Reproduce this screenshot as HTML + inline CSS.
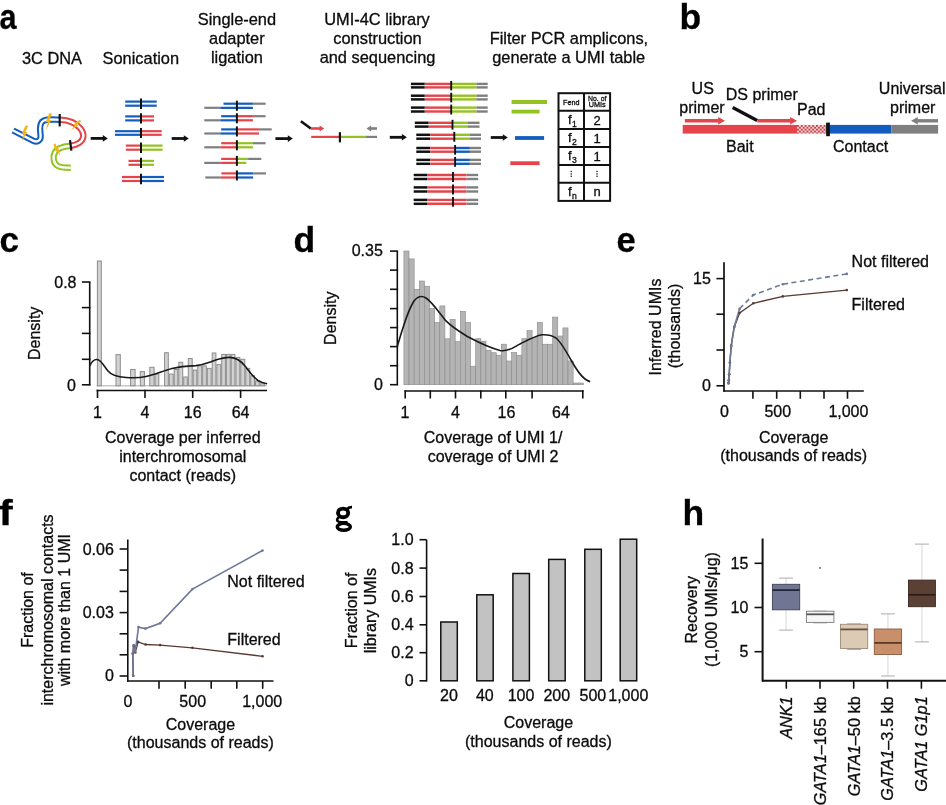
<!DOCTYPE html>
<html><head><meta charset="utf-8"><style>
html,body{margin:0;padding:0;background:#fff;}
body{width:946px;height:805px;overflow:hidden;}
svg{display:block;font-family:"Liberation Sans", sans-serif;will-change:transform;}
text{stroke:#0c0c0c;stroke-width:0.3px;}
</style></head><body>
<svg width="946" height="805" viewBox="0 0 946 805" font-family='"Liberation Sans", sans-serif'>
<rect width="946" height="805" fill="#fff"/>
<text x="0" y="0" font-size="34" font-weight="bold" fill="#000" transform="translate(-0.6,28.9) scale(0.9,1.03)">a</text>
<text x="679.60" y="28.90" font-size="35.5" text-anchor="start" font-weight="bold" font-style="normal" fill="#000" >b</text>
<text x="-0.60" y="251.70" font-size="35" text-anchor="start" font-weight="bold" font-style="normal" fill="#000" >c</text>
<text x="293.60" y="251.60" font-size="35.5" text-anchor="start" font-weight="bold" font-style="normal" fill="#000" >d</text>
<text x="616.40" y="251.60" font-size="34.5" text-anchor="start" font-weight="bold" font-style="normal" fill="#000" >e</text>
<text x="0" y="0" font-size="35" font-weight="bold" fill="#000" transform="translate(-1.2,525) scale(1.2,1)">f</text>
<ellipse cx="343.1" cy="512.9" rx="5.1" ry="4.3" fill="none" stroke="#000" stroke-width="3.9"/>
<path d="M346.8,509.2 C348.5,507.6 350,507.2 352,507.2" fill="none" stroke="#000" stroke-width="2.8"/>
<path d="M339.5,516.8 C337,518 336.3,520.5 338.5,521.6 C340.5,522.4 344,522.2 347.5,522.3" fill="none" stroke="#000" stroke-width="2.6"/>
<ellipse cx="343.8" cy="526.8" rx="6.6" ry="3.4" fill="none" stroke="#000" stroke-width="3.4"/>
<text x="682.60" y="525.20" font-size="35.5" text-anchor="start" font-weight="bold" font-style="normal" fill="#000" >h</text>
<text x="52.00" y="63.50" font-size="16.4" text-anchor="middle" font-weight="normal" font-style="normal" fill="#0c0c0c" >3C DNA</text>
<text x="140.80" y="63.50" font-size="16.4" text-anchor="middle" font-weight="normal" font-style="normal" fill="#0c0c0c" >Sonication</text>
<text x="236.90" y="24.60" font-size="16.4" text-anchor="middle" font-weight="normal" font-style="normal" fill="#0c0c0c" >Single-end</text>
<text x="236.90" y="44.00" font-size="16.4" text-anchor="middle" font-weight="normal" font-style="normal" fill="#0c0c0c" >adapter</text>
<text x="236.90" y="63.40" font-size="16.4" text-anchor="middle" font-weight="normal" font-style="normal" fill="#0c0c0c" >ligation</text>
<text x="377.00" y="24.70" font-size="16.4" text-anchor="middle" font-weight="normal" font-style="normal" fill="#0c0c0c" >UMI-4C library</text>
<text x="377.50" y="43.80" font-size="16.4" text-anchor="middle" font-weight="normal" font-style="normal" fill="#0c0c0c" >construction</text>
<text x="377.50" y="62.80" font-size="16.4" text-anchor="middle" font-weight="normal" font-style="normal" fill="#0c0c0c" >and sequencing</text>
<text x="568.90" y="43.80" font-size="16.4" text-anchor="middle" font-weight="normal" font-style="normal" fill="#0c0c0c" >Filter PCR amplicons,</text>
<text x="568.70" y="62.80" font-size="16.4" text-anchor="middle" font-weight="normal" font-style="normal" fill="#0c0c0c" >generate a UMI table</text>
<path d="M13.1,130.5 L33,140.6 C38,143 41.5,140 40.5,134 C39.5,127 40,122 44,120.5 C48,119 53,119.6 59.7,119.7" fill="none" stroke="#135dbf" stroke-width="6.4" stroke-linecap="butt"/>
<path d="M13.1,130.5 L33,140.6 C38,143 41.5,140 40.5,134 C39.5,127 40,122 44,120.5 C48,119 53,119.6 59.7,119.7" fill="none" stroke="#fff" stroke-width="2.4" stroke-linecap="butt"/>
<path d="M59.7,119.7 C68,119.8 76,123 80.5,128.5 C85,134 84,140 79,143 C76.5,144.5 74,145.3 71,145.8" fill="none" stroke="#e4444a" stroke-width="6.4" stroke-linecap="butt"/>
<path d="M59.7,119.7 C68,119.8 76,123 80.5,128.5 C85,134 84,140 79,143 C76.5,144.5 74,145.3 71,145.8" fill="none" stroke="#fff" stroke-width="2.4" stroke-linecap="butt"/>
<path d="M71,145.8 C63,146.5 57,148 54.8,152.5 C52.5,157 53.5,163 57,165.5 C60,167.6 65,167.8 70.7,167.8" fill="none" stroke="#93c320" stroke-width="6.4" stroke-linecap="butt"/>
<path d="M71,145.8 C63,146.5 57,148 54.8,152.5 C52.5,157 53.5,163 57,165.5 C60,167.6 65,167.8 70.7,167.8" fill="none" stroke="#fff" stroke-width="2.4" stroke-linecap="butt"/>
<line x1="59.70" y1="114.00" x2="59.70" y2="126.40" stroke="#111" stroke-width="2.2" />
<line x1="70.00" y1="140.20" x2="71.40" y2="150.70" stroke="#111" stroke-width="2.2" />
<polygon points="24.40,125.50 27.10,125.50 25.20,131.70 27.00,131.70 22.80,141.50 23.90,134.10 21.90,134.10" fill="#f4b41a" transform="rotate(8 24.2 133.5)"/>
<polygon points="48.41,113.10 51.28,113.10 49.26,119.69 51.18,119.69 46.71,130.10 47.88,122.24 45.76,122.24" fill="#f4b41a" transform="rotate(5 48.2 121.6)"/>
<polygon points="75.58,118.40 77.94,118.40 76.28,123.83 77.85,123.83 74.18,132.40 75.14,125.93 73.39,125.93" fill="#f4b41a" transform="rotate(35 75.4 125.4)"/>
<polygon points="57.47,143.40 59.84,143.40 58.17,148.83 59.75,148.83 56.07,157.40 57.04,150.93 55.29,150.93" fill="#f4b41a" transform="rotate(-35 57.3 150.4)"/>
<line x1="90.70" y1="138.40" x2="103.30" y2="138.40" stroke="#111" stroke-width="2.8" />
<polygon points="107.80,138.40 102.80,135.10 102.80,141.70" fill="#111"/>
<line x1="171.70" y1="138.50" x2="184.30" y2="138.50" stroke="#111" stroke-width="2.8" />
<polygon points="188.80,138.50 183.80,135.20 183.80,141.80" fill="#111"/>
<line x1="275.40" y1="138.60" x2="288.30" y2="138.60" stroke="#111" stroke-width="2.8" />
<polygon points="292.80,138.60 287.80,135.30 287.80,141.90" fill="#111"/>
<line x1="389.80" y1="137.30" x2="402.40" y2="137.30" stroke="#111" stroke-width="2.8" />
<polygon points="406.90,137.30 401.90,134.00 401.90,140.60" fill="#111"/>
<line x1="490.80" y1="137.50" x2="503.30" y2="137.50" stroke="#111" stroke-width="2.8" />
<polygon points="507.80,137.50 502.80,134.20 502.80,140.80" fill="#111"/>
<line x1="125.20" y1="101.60" x2="141.00" y2="101.60" stroke="#135dbf" stroke-width="2.2" />
<line x1="125.20" y1="105.70" x2="141.00" y2="105.70" stroke="#135dbf" stroke-width="2.2" />
<line x1="141.00" y1="101.60" x2="156.70" y2="101.60" stroke="#135dbf" stroke-width="2.2" />
<line x1="141.00" y1="105.70" x2="156.70" y2="105.70" stroke="#135dbf" stroke-width="2.2" />
<line x1="141.00" y1="98.40" x2="141.00" y2="108.90" stroke="#111" stroke-width="2" />
<line x1="125.20" y1="116.40" x2="141.00" y2="116.40" stroke="#135dbf" stroke-width="2.2" />
<line x1="125.20" y1="120.40" x2="141.00" y2="120.40" stroke="#135dbf" stroke-width="2.2" />
<line x1="141.00" y1="116.40" x2="154.00" y2="116.40" stroke="#e4444a" stroke-width="2.2" />
<line x1="141.00" y1="120.40" x2="154.00" y2="120.40" stroke="#e4444a" stroke-width="2.2" />
<line x1="141.00" y1="113.20" x2="141.00" y2="123.60" stroke="#111" stroke-width="2" />
<line x1="115.00" y1="131.20" x2="141.00" y2="131.20" stroke="#135dbf" stroke-width="2.2" />
<line x1="115.00" y1="134.80" x2="141.00" y2="134.80" stroke="#135dbf" stroke-width="2.2" />
<line x1="141.00" y1="131.20" x2="161.70" y2="131.20" stroke="#e4444a" stroke-width="2.2" />
<line x1="141.00" y1="134.80" x2="161.70" y2="134.80" stroke="#e4444a" stroke-width="2.2" />
<line x1="141.00" y1="128.00" x2="141.00" y2="138.00" stroke="#111" stroke-width="2" />
<line x1="125.80" y1="145.60" x2="141.00" y2="145.60" stroke="#e4444a" stroke-width="2.2" />
<line x1="125.80" y1="149.70" x2="141.00" y2="149.70" stroke="#e4444a" stroke-width="2.2" />
<line x1="141.00" y1="145.60" x2="162.60" y2="145.60" stroke="#93c320" stroke-width="2.2" />
<line x1="141.00" y1="149.70" x2="162.60" y2="149.70" stroke="#93c320" stroke-width="2.2" />
<line x1="141.00" y1="142.40" x2="141.00" y2="152.90" stroke="#111" stroke-width="2" />
<line x1="128.50" y1="160.90" x2="141.00" y2="160.90" stroke="#e4444a" stroke-width="2.2" />
<line x1="128.50" y1="164.80" x2="141.00" y2="164.80" stroke="#e4444a" stroke-width="2.2" />
<line x1="141.00" y1="160.90" x2="154.00" y2="160.90" stroke="#93c320" stroke-width="2.2" />
<line x1="141.00" y1="164.80" x2="154.00" y2="164.80" stroke="#93c320" stroke-width="2.2" />
<line x1="141.00" y1="157.70" x2="141.00" y2="168.00" stroke="#111" stroke-width="2" />
<line x1="122.00" y1="177.00" x2="141.00" y2="177.00" stroke="#e4444a" stroke-width="2.2" />
<line x1="122.00" y1="181.00" x2="141.00" y2="181.00" stroke="#e4444a" stroke-width="2.2" />
<line x1="141.00" y1="177.00" x2="164.00" y2="177.00" stroke="#135dbf" stroke-width="2.2" />
<line x1="141.00" y1="181.00" x2="164.00" y2="181.00" stroke="#135dbf" stroke-width="2.2" />
<line x1="141.00" y1="173.80" x2="141.00" y2="184.20" stroke="#111" stroke-width="2" />
<line x1="223.50" y1="103.70" x2="252.90" y2="103.70" stroke="#135dbf" stroke-width="2.2" />
<line x1="252.90" y1="103.70" x2="265.60" y2="103.70" stroke="#7f7f7f" stroke-width="2.2" />
<line x1="204.30" y1="107.80" x2="220.30" y2="107.80" stroke="#7f7f7f" stroke-width="2.2" />
<line x1="220.30" y1="107.80" x2="252.90" y2="107.80" stroke="#135dbf" stroke-width="2.2" />
<line x1="236.90" y1="100.70" x2="236.90" y2="110.80" stroke="#111" stroke-width="2" />
<line x1="221.20" y1="116.20" x2="236.90" y2="116.20" stroke="#135dbf" stroke-width="2.2" />
<line x1="236.90" y1="116.20" x2="252.90" y2="116.20" stroke="#e4444a" stroke-width="2.2" />
<line x1="252.90" y1="116.20" x2="265.60" y2="116.20" stroke="#7f7f7f" stroke-width="2.2" />
<line x1="204.30" y1="120.30" x2="220.30" y2="120.30" stroke="#7f7f7f" stroke-width="2.2" />
<line x1="220.30" y1="120.30" x2="236.90" y2="120.30" stroke="#135dbf" stroke-width="2.2" />
<line x1="236.90" y1="120.30" x2="252.90" y2="120.30" stroke="#e4444a" stroke-width="2.2" />
<line x1="236.90" y1="113.20" x2="236.90" y2="123.30" stroke="#111" stroke-width="2" />
<line x1="221.20" y1="129.40" x2="236.90" y2="129.40" stroke="#135dbf" stroke-width="2.2" />
<line x1="236.90" y1="129.40" x2="259.00" y2="129.40" stroke="#e4444a" stroke-width="2.2" />
<line x1="259.00" y1="129.40" x2="271.70" y2="129.40" stroke="#7f7f7f" stroke-width="2.2" />
<line x1="204.30" y1="133.50" x2="220.30" y2="133.50" stroke="#7f7f7f" stroke-width="2.2" />
<line x1="220.30" y1="133.50" x2="236.90" y2="133.50" stroke="#135dbf" stroke-width="2.2" />
<line x1="236.90" y1="133.50" x2="259.00" y2="133.50" stroke="#e4444a" stroke-width="2.2" />
<line x1="236.90" y1="126.40" x2="236.90" y2="136.50" stroke="#111" stroke-width="2" />
<line x1="221.20" y1="143.20" x2="236.90" y2="143.20" stroke="#e4444a" stroke-width="2.2" />
<line x1="236.90" y1="143.20" x2="252.90" y2="143.20" stroke="#93c320" stroke-width="2.2" />
<line x1="252.90" y1="143.20" x2="265.60" y2="143.20" stroke="#7f7f7f" stroke-width="2.2" />
<line x1="204.30" y1="147.30" x2="220.30" y2="147.30" stroke="#7f7f7f" stroke-width="2.2" />
<line x1="220.30" y1="147.30" x2="236.90" y2="147.30" stroke="#e4444a" stroke-width="2.2" />
<line x1="236.90" y1="147.30" x2="252.90" y2="147.30" stroke="#93c320" stroke-width="2.2" />
<line x1="236.90" y1="140.20" x2="236.90" y2="150.30" stroke="#111" stroke-width="2" />
<line x1="221.20" y1="158.90" x2="236.90" y2="158.90" stroke="#e4444a" stroke-width="2.2" />
<line x1="236.90" y1="158.90" x2="248.10" y2="158.90" stroke="#93c320" stroke-width="2.2" />
<line x1="248.10" y1="158.90" x2="261.30" y2="158.90" stroke="#7f7f7f" stroke-width="2.2" />
<line x1="204.30" y1="162.90" x2="220.30" y2="162.90" stroke="#7f7f7f" stroke-width="2.2" />
<line x1="220.30" y1="162.90" x2="236.90" y2="162.90" stroke="#e4444a" stroke-width="2.2" />
<line x1="236.90" y1="162.90" x2="246.30" y2="162.90" stroke="#93c320" stroke-width="2.2" />
<line x1="236.90" y1="155.90" x2="236.90" y2="165.90" stroke="#111" stroke-width="2" />
<line x1="221.40" y1="173.40" x2="236.90" y2="173.40" stroke="#e4444a" stroke-width="2.2" />
<line x1="236.90" y1="173.40" x2="253.10" y2="173.40" stroke="#135dbf" stroke-width="2.2" />
<line x1="253.10" y1="173.40" x2="265.90" y2="173.40" stroke="#7f7f7f" stroke-width="2.2" />
<line x1="205.30" y1="177.50" x2="220.80" y2="177.50" stroke="#7f7f7f" stroke-width="2.2" />
<line x1="220.80" y1="177.50" x2="236.90" y2="177.50" stroke="#e4444a" stroke-width="2.2" />
<line x1="236.90" y1="177.50" x2="253.10" y2="177.50" stroke="#135dbf" stroke-width="2.2" />
<line x1="236.90" y1="170.40" x2="236.90" y2="180.50" stroke="#111" stroke-width="2" />
<line x1="300.90" y1="121.20" x2="310.80" y2="128.50" stroke="#111" stroke-width="2.6" />
<line x1="310.80" y1="128.50" x2="320.10" y2="128.50" stroke="#e4444a" stroke-width="2.6" />
<polygon points="324.20,128.50 319.60,125.40 319.60,131.60" fill="#e4444a"/>
<line x1="370.60" y1="128.50" x2="377.00" y2="128.50" stroke="#7f7f7f" stroke-width="2.6" />
<polygon points="366.50,128.50 371.10,125.40 371.10,131.60" fill="#7f7f7f"/>
<line x1="311.20" y1="136.90" x2="339.90" y2="136.90" stroke="#e4444a" stroke-width="2.2" />
<line x1="339.90" y1="136.90" x2="365.90" y2="136.90" stroke="#93c320" stroke-width="2.2" />
<line x1="365.90" y1="136.90" x2="377.00" y2="136.90" stroke="#7f7f7f" stroke-width="2.2" />
<line x1="339.90" y1="132.20" x2="339.90" y2="142.40" stroke="#111" stroke-width="2.2" />
<line x1="410.90" y1="83.90" x2="424.80" y2="83.90" stroke="#111" stroke-width="2.5" />
<line x1="424.80" y1="83.90" x2="451.20" y2="83.90" stroke="#e4444a" stroke-width="2.4" />
<line x1="451.20" y1="83.90" x2="476.40" y2="83.90" stroke="#93c320" stroke-width="2.4" />
<line x1="476.40" y1="83.90" x2="487.70" y2="83.90" stroke="#7f7f7f" stroke-width="2.4" />
<line x1="410.90" y1="87.40" x2="424.80" y2="87.40" stroke="#111" stroke-width="2.5" />
<line x1="424.80" y1="87.40" x2="451.20" y2="87.40" stroke="#e4444a" stroke-width="2.4" />
<line x1="451.20" y1="87.40" x2="476.40" y2="87.40" stroke="#93c320" stroke-width="2.4" />
<line x1="476.40" y1="87.40" x2="487.70" y2="87.40" stroke="#7f7f7f" stroke-width="2.4" />
<line x1="451.20" y1="80.90" x2="451.20" y2="90.40" stroke="#111" stroke-width="1.9" />
<line x1="410.90" y1="95.70" x2="424.80" y2="95.70" stroke="#111" stroke-width="2.5" />
<line x1="424.80" y1="95.70" x2="451.20" y2="95.70" stroke="#e4444a" stroke-width="2.4" />
<line x1="451.20" y1="95.70" x2="476.40" y2="95.70" stroke="#93c320" stroke-width="2.4" />
<line x1="476.40" y1="95.70" x2="487.70" y2="95.70" stroke="#7f7f7f" stroke-width="2.4" />
<line x1="410.90" y1="99.40" x2="424.80" y2="99.40" stroke="#111" stroke-width="2.5" />
<line x1="424.80" y1="99.40" x2="451.20" y2="99.40" stroke="#e4444a" stroke-width="2.4" />
<line x1="451.20" y1="99.40" x2="476.40" y2="99.40" stroke="#93c320" stroke-width="2.4" />
<line x1="476.40" y1="99.40" x2="487.70" y2="99.40" stroke="#7f7f7f" stroke-width="2.4" />
<line x1="451.20" y1="92.70" x2="451.20" y2="102.40" stroke="#111" stroke-width="1.9" />
<line x1="410.90" y1="107.60" x2="424.80" y2="107.60" stroke="#111" stroke-width="2.5" />
<line x1="424.80" y1="107.60" x2="451.20" y2="107.60" stroke="#e4444a" stroke-width="2.4" />
<line x1="451.20" y1="107.60" x2="476.40" y2="107.60" stroke="#93c320" stroke-width="2.4" />
<line x1="476.40" y1="107.60" x2="487.70" y2="107.60" stroke="#7f7f7f" stroke-width="2.4" />
<line x1="410.90" y1="111.50" x2="424.80" y2="111.50" stroke="#111" stroke-width="2.5" />
<line x1="424.80" y1="111.50" x2="451.20" y2="111.50" stroke="#e4444a" stroke-width="2.4" />
<line x1="451.20" y1="111.50" x2="476.40" y2="111.50" stroke="#93c320" stroke-width="2.4" />
<line x1="476.40" y1="111.50" x2="487.70" y2="111.50" stroke="#7f7f7f" stroke-width="2.4" />
<line x1="451.20" y1="104.60" x2="451.20" y2="114.50" stroke="#111" stroke-width="1.9" />
<line x1="414.80" y1="122.80" x2="428.70" y2="122.80" stroke="#111" stroke-width="2.5" />
<line x1="428.70" y1="122.80" x2="452.50" y2="122.80" stroke="#e4444a" stroke-width="2.4" />
<line x1="452.50" y1="122.80" x2="467.90" y2="122.80" stroke="#93c320" stroke-width="2.4" />
<line x1="467.90" y1="122.80" x2="479.50" y2="122.80" stroke="#7f7f7f" stroke-width="2.4" />
<line x1="414.80" y1="126.60" x2="428.70" y2="126.60" stroke="#111" stroke-width="2.5" />
<line x1="428.70" y1="126.60" x2="452.50" y2="126.60" stroke="#e4444a" stroke-width="2.4" />
<line x1="452.50" y1="126.60" x2="467.90" y2="126.60" stroke="#93c320" stroke-width="2.4" />
<line x1="467.90" y1="126.60" x2="479.50" y2="126.60" stroke="#7f7f7f" stroke-width="2.4" />
<line x1="452.50" y1="119.80" x2="452.50" y2="129.60" stroke="#111" stroke-width="1.9" />
<line x1="416.30" y1="134.80" x2="430.30" y2="134.80" stroke="#111" stroke-width="2.5" />
<line x1="430.30" y1="134.80" x2="454.30" y2="134.80" stroke="#e4444a" stroke-width="2.4" />
<line x1="454.30" y1="134.80" x2="469.90" y2="134.80" stroke="#93c320" stroke-width="2.4" />
<line x1="469.90" y1="134.80" x2="481.00" y2="134.80" stroke="#7f7f7f" stroke-width="2.4" />
<line x1="416.30" y1="138.70" x2="430.30" y2="138.70" stroke="#111" stroke-width="2.5" />
<line x1="430.30" y1="138.70" x2="454.30" y2="138.70" stroke="#e4444a" stroke-width="2.4" />
<line x1="454.30" y1="138.70" x2="469.90" y2="138.70" stroke="#93c320" stroke-width="2.4" />
<line x1="469.90" y1="138.70" x2="481.00" y2="138.70" stroke="#7f7f7f" stroke-width="2.4" />
<line x1="454.30" y1="131.80" x2="454.30" y2="141.70" stroke="#111" stroke-width="1.9" />
<line x1="416.30" y1="148.00" x2="430.30" y2="148.00" stroke="#111" stroke-width="2.5" />
<line x1="430.30" y1="148.00" x2="455.10" y2="148.00" stroke="#e4444a" stroke-width="2.4" />
<line x1="455.10" y1="148.00" x2="469.90" y2="148.00" stroke="#135dbf" stroke-width="2.4" />
<line x1="469.90" y1="148.00" x2="481.00" y2="148.00" stroke="#7f7f7f" stroke-width="2.4" />
<line x1="416.30" y1="151.70" x2="430.30" y2="151.70" stroke="#111" stroke-width="2.5" />
<line x1="430.30" y1="151.70" x2="455.10" y2="151.70" stroke="#e4444a" stroke-width="2.4" />
<line x1="455.10" y1="151.70" x2="469.90" y2="151.70" stroke="#135dbf" stroke-width="2.4" />
<line x1="469.90" y1="151.70" x2="481.00" y2="151.70" stroke="#7f7f7f" stroke-width="2.4" />
<line x1="455.10" y1="145.00" x2="455.10" y2="154.70" stroke="#111" stroke-width="1.9" />
<line x1="416.30" y1="159.90" x2="430.30" y2="159.90" stroke="#111" stroke-width="2.5" />
<line x1="430.30" y1="159.90" x2="455.10" y2="159.90" stroke="#e4444a" stroke-width="2.4" />
<line x1="455.10" y1="159.90" x2="469.90" y2="159.90" stroke="#135dbf" stroke-width="2.4" />
<line x1="469.90" y1="159.90" x2="481.00" y2="159.90" stroke="#7f7f7f" stroke-width="2.4" />
<line x1="416.30" y1="163.80" x2="430.30" y2="163.80" stroke="#111" stroke-width="2.5" />
<line x1="430.30" y1="163.80" x2="455.10" y2="163.80" stroke="#e4444a" stroke-width="2.4" />
<line x1="455.10" y1="163.80" x2="469.90" y2="163.80" stroke="#135dbf" stroke-width="2.4" />
<line x1="469.90" y1="163.80" x2="481.00" y2="163.80" stroke="#7f7f7f" stroke-width="2.4" />
<line x1="455.10" y1="156.90" x2="455.10" y2="166.80" stroke="#111" stroke-width="1.9" />
<line x1="413.70" y1="175.00" x2="427.50" y2="175.00" stroke="#111" stroke-width="2.5" />
<line x1="427.50" y1="175.00" x2="466.60" y2="175.00" stroke="#e4444a" stroke-width="2.4" />
<line x1="466.60" y1="175.00" x2="478.20" y2="175.00" stroke="#7f7f7f" stroke-width="2.4" />
<line x1="413.70" y1="179.00" x2="427.50" y2="179.00" stroke="#111" stroke-width="2.5" />
<line x1="427.50" y1="179.00" x2="466.60" y2="179.00" stroke="#e4444a" stroke-width="2.4" />
<line x1="466.60" y1="179.00" x2="478.20" y2="179.00" stroke="#7f7f7f" stroke-width="2.4" />
<line x1="453.00" y1="172.00" x2="453.00" y2="182.00" stroke="#111" stroke-width="1.9" />
<line x1="413.70" y1="187.40" x2="427.50" y2="187.40" stroke="#111" stroke-width="2.5" />
<line x1="427.50" y1="187.40" x2="466.60" y2="187.40" stroke="#e4444a" stroke-width="2.4" />
<line x1="466.60" y1="187.40" x2="478.20" y2="187.40" stroke="#7f7f7f" stroke-width="2.4" />
<line x1="413.70" y1="191.50" x2="427.50" y2="191.50" stroke="#111" stroke-width="2.5" />
<line x1="427.50" y1="191.50" x2="466.60" y2="191.50" stroke="#e4444a" stroke-width="2.4" />
<line x1="466.60" y1="191.50" x2="478.20" y2="191.50" stroke="#7f7f7f" stroke-width="2.4" />
<line x1="453.00" y1="184.40" x2="453.00" y2="194.50" stroke="#111" stroke-width="1.9" />
<line x1="413.70" y1="199.90" x2="427.50" y2="199.90" stroke="#111" stroke-width="2.5" />
<line x1="427.50" y1="199.90" x2="466.60" y2="199.90" stroke="#e4444a" stroke-width="2.4" />
<line x1="466.60" y1="199.90" x2="478.20" y2="199.90" stroke="#7f7f7f" stroke-width="2.4" />
<line x1="413.70" y1="203.80" x2="427.50" y2="203.80" stroke="#111" stroke-width="2.5" />
<line x1="427.50" y1="203.80" x2="466.60" y2="203.80" stroke="#e4444a" stroke-width="2.4" />
<line x1="466.60" y1="203.80" x2="478.20" y2="203.80" stroke="#7f7f7f" stroke-width="2.4" />
<line x1="453.00" y1="196.90" x2="453.00" y2="206.80" stroke="#111" stroke-width="1.9" />
<line x1="511.60" y1="102.00" x2="547.00" y2="102.00" stroke="#93c320" stroke-width="3.8" />
<line x1="511.60" y1="111.60" x2="539.60" y2="111.60" stroke="#93c320" stroke-width="3.8" />
<line x1="515.00" y1="138.00" x2="544.10" y2="138.00" stroke="#135dbf" stroke-width="3.8" />
<line x1="510.30" y1="163.20" x2="539.60" y2="163.20" stroke="#e4444a" stroke-width="3.8" />
<rect x="558.50" y="93.20" width="51.60" height="107.70" fill="#fff" stroke="#111" stroke-width="2" />
<line x1="584.00" y1="93.20" x2="584.00" y2="200.90" stroke="#111" stroke-width="2" />
<line x1="558.50" y1="110.80" x2="610.10" y2="110.80" stroke="#111" stroke-width="2" />
<line x1="558.50" y1="129.00" x2="610.10" y2="129.00" stroke="#111" stroke-width="2" />
<line x1="558.50" y1="147.10" x2="610.10" y2="147.10" stroke="#111" stroke-width="2" />
<line x1="558.50" y1="165.10" x2="610.10" y2="165.10" stroke="#111" stroke-width="2" />
<line x1="558.50" y1="182.80" x2="610.10" y2="182.80" stroke="#111" stroke-width="2" />
<text x="571.20" y="104.80" font-size="7.2" text-anchor="middle" font-weight="normal" font-style="normal" fill="#0c0c0c" >Fend</text>
<text x="597.2" y="101.2" font-size="7.6" text-anchor="middle" fill="#0c0c0c" textLength="18.4" lengthAdjust="spacingAndGlyphs">No. of</text>
<text x="597.2" y="106.6" font-size="7.6" text-anchor="middle" fill="#0c0c0c" textLength="17" lengthAdjust="spacingAndGlyphs">UMIs</text>
<text x="568" y="123.90" font-size="13" fill="#0c0c0c">f<tspan font-size="8.6" dy="3" dx="0.3">1</tspan></text>
<text x="597.00" y="124.50" font-size="13" text-anchor="middle" font-weight="normal" font-style="normal" fill="#0c0c0c" >2</text>
<text x="568" y="142.05" font-size="13" fill="#0c0c0c">f<tspan font-size="8.6" dy="3" dx="0.3">2</tspan></text>
<text x="597.00" y="142.65" font-size="13" text-anchor="middle" font-weight="normal" font-style="normal" fill="#0c0c0c" >1</text>
<text x="568" y="160.10" font-size="13" fill="#0c0c0c">f<tspan font-size="8.6" dy="3" dx="0.3">3</tspan></text>
<text x="597.00" y="160.70" font-size="13" text-anchor="middle" font-weight="normal" font-style="normal" fill="#0c0c0c" >1</text>
<circle cx="571.2" cy="171.55" r="0.75" fill="#0c0c0c"/>
<circle cx="571.2" cy="173.95" r="0.75" fill="#0c0c0c"/>
<circle cx="571.2" cy="176.35" r="0.75" fill="#0c0c0c"/>
<circle cx="597" cy="171.55" r="0.75" fill="#0c0c0c"/>
<circle cx="597" cy="173.95" r="0.75" fill="#0c0c0c"/>
<circle cx="597" cy="176.35" r="0.75" fill="#0c0c0c"/>
<text x="568" y="195.85" font-size="13" fill="#0c0c0c">f<tspan font-size="8.6" dy="3" dx="0.3">n</tspan></text>
<text x="597.00" y="196.45" font-size="13" text-anchor="middle" font-weight="normal" font-style="normal" fill="#0c0c0c" >n</text>
<rect x="682.70" y="124.90" width="114.30" height="8.70" fill="#e4444a" stroke="none" stroke-width="0" />
<defs><pattern id="chk" x="797" y="124.9" width="3.8" height="3.8" patternUnits="userSpaceOnUse"><rect width="3.8" height="3.8" fill="#f8dcdc"/><rect width="1.9" height="1.9" fill="#c94048"/><rect x="1.9" y="1.9" width="1.9" height="1.9" fill="#c94048"/></pattern></defs>
<rect x="797.00" y="124.90" width="29.30" height="8.70" fill="url(#chk)" stroke="none" stroke-width="0" />
<rect x="829.30" y="124.90" width="62.00" height="8.70" fill="#135dbf" stroke="none" stroke-width="0" />
<rect x="891.30" y="124.90" width="46.80" height="8.70" fill="#7f7f7f" stroke="none" stroke-width="0" />
<rect x="826.10" y="122.60" width="3.80" height="13.60" fill="#111" stroke="none" stroke-width="0" />
<line x1="684.80" y1="120.80" x2="718.70" y2="120.80" stroke="#e4444a" stroke-width="3.4" />
<polygon points="725.00,120.80 718.20,117.10 718.20,124.50" fill="#e4444a"/>
<line x1="757.30" y1="120.80" x2="790.70" y2="120.80" stroke="#e4444a" stroke-width="3.4" />
<polygon points="797.00,120.80 790.20,117.10 790.20,124.50" fill="#e4444a"/>
<line x1="917.30" y1="120.80" x2="938.00" y2="120.80" stroke="#7f7f7f" stroke-width="3.4" />
<polygon points="911.00,120.80 917.80,117.10 917.80,124.50" fill="#7f7f7f"/>
<line x1="732.70" y1="107.60" x2="757.10" y2="120.40" stroke="#111" stroke-width="3.4" />
<text x="702.70" y="93.90" font-size="16" text-anchor="middle" font-weight="normal" font-style="normal" fill="#0c0c0c" >US</text>
<text x="702.00" y="112.60" font-size="16" text-anchor="middle" font-weight="normal" font-style="normal" fill="#0c0c0c" >primer</text>
<text x="761.80" y="99.90" font-size="16" text-anchor="middle" font-weight="normal" font-style="normal" fill="#0c0c0c" >DS primer</text>
<text x="811.20" y="115.00" font-size="16" text-anchor="middle" font-weight="normal" font-style="normal" fill="#0c0c0c" >Pad</text>
<text x="912.20" y="93.90" font-size="16" text-anchor="middle" font-weight="normal" font-style="normal" fill="#0c0c0c" >Universal</text>
<text x="912.70" y="112.60" font-size="16" text-anchor="middle" font-weight="normal" font-style="normal" fill="#0c0c0c" >primer</text>
<text x="739.80" y="152.00" font-size="16" text-anchor="middle" font-weight="normal" font-style="normal" fill="#0c0c0c" >Bait</text>
<text x="860.60" y="152.00" font-size="16" text-anchor="middle" font-weight="normal" font-style="normal" fill="#0c0c0c" >Contact</text>
<line x1="89.70" y1="282.00" x2="89.70" y2="385.40" stroke="#111" stroke-width="1.6" />
<line x1="81.90" y1="282.00" x2="90.50" y2="282.00" stroke="#111" stroke-width="1.6" />
<line x1="81.90" y1="307.60" x2="90.50" y2="307.60" stroke="#111" stroke-width="1.6" />
<line x1="81.90" y1="333.40" x2="90.50" y2="333.40" stroke="#111" stroke-width="1.6" />
<line x1="81.90" y1="359.30" x2="90.50" y2="359.30" stroke="#111" stroke-width="1.6" />
<line x1="81.90" y1="384.80" x2="90.50" y2="384.80" stroke="#111" stroke-width="1.6" />
<text x="76.50" y="287.60" font-size="16" text-anchor="end" font-weight="normal" font-style="normal" fill="#0c0c0c" >0.8</text>
<text x="76.00" y="390.60" font-size="16" text-anchor="end" font-weight="normal" font-style="normal" fill="#0c0c0c" >0</text>
<text x="40.50" y="333.30" font-size="16" text-anchor="middle" font-weight="normal" font-style="normal" fill="#0c0c0c" transform="rotate(-90 40.50 333.30)" >Density</text>
<line x1="96.60" y1="390.50" x2="267.00" y2="390.50" stroke="#111" stroke-width="1.6" />
<line x1="97.50" y1="389.70" x2="97.50" y2="398.00" stroke="#111" stroke-width="1.6" />
<line x1="145.00" y1="389.70" x2="145.00" y2="398.00" stroke="#111" stroke-width="1.6" />
<line x1="192.70" y1="389.70" x2="192.70" y2="398.00" stroke="#111" stroke-width="1.6" />
<line x1="240.60" y1="389.70" x2="240.60" y2="398.00" stroke="#111" stroke-width="1.6" />
<text x="97.50" y="417.70" font-size="16" text-anchor="middle" font-weight="normal" font-style="normal" fill="#0c0c0c" >1</text>
<text x="145.00" y="417.70" font-size="16" text-anchor="middle" font-weight="normal" font-style="normal" fill="#0c0c0c" >4</text>
<text x="192.70" y="417.70" font-size="16" text-anchor="middle" font-weight="normal" font-style="normal" fill="#0c0c0c" >16</text>
<text x="240.60" y="417.70" font-size="16" text-anchor="middle" font-weight="normal" font-style="normal" fill="#0c0c0c" >64</text>
<text x="182.80" y="443.00" font-size="16" text-anchor="middle" font-weight="normal" font-style="normal" fill="#0c0c0c" >Coverage per inferred</text>
<text x="182.80" y="462.10" font-size="16" text-anchor="middle" font-weight="normal" font-style="normal" fill="#0c0c0c" >interchromosomal</text>
<text x="182.80" y="481.20" font-size="16" text-anchor="middle" font-weight="normal" font-style="normal" fill="#0c0c0c" >contact (reads)</text>
<line x1="96.60" y1="385.80" x2="267.00" y2="385.80" stroke="#aaa" stroke-width="1" />
<rect x="97.40" y="261.00" width="3.90" height="124.80" fill="#d2d2d2" stroke="#8c8c8c" stroke-width="1" />
<rect x="116.00" y="354.60" width="4.30" height="31.20" fill="#d2d2d2" stroke="#8c8c8c" stroke-width="1" />
<rect x="130.60" y="369.50" width="4.50" height="16.30" fill="#d2d2d2" stroke="#8c8c8c" stroke-width="1" />
<rect x="140.30" y="371.60" width="4.10" height="14.20" fill="#d2d2d2" stroke="#8c8c8c" stroke-width="1" />
<rect x="149.80" y="367.30" width="4.30" height="18.50" fill="#d2d2d2" stroke="#8c8c8c" stroke-width="1" />
<rect x="155.10" y="374.10" width="3.70" height="11.70" fill="#d2d2d2" stroke="#8c8c8c" stroke-width="1" />
<rect x="164.60" y="352.70" width="3.70" height="33.10" fill="#d2d2d2" stroke="#8c8c8c" stroke-width="1" />
<rect x="169.30" y="374.10" width="3.90" height="11.70" fill="#d2d2d2" stroke="#8c8c8c" stroke-width="1" />
<rect x="174.20" y="369.50" width="3.60" height="16.30" fill="#d2d2d2" stroke="#8c8c8c" stroke-width="1" />
<rect x="178.80" y="362.30" width="3.90" height="23.50" fill="#d2d2d2" stroke="#8c8c8c" stroke-width="1" />
<rect x="183.70" y="377.00" width="3.60" height="8.80" fill="#d2d2d2" stroke="#8c8c8c" stroke-width="1" />
<rect x="188.30" y="358.50" width="3.90" height="27.30" fill="#d2d2d2" stroke="#8c8c8c" stroke-width="1" />
<rect x="193.20" y="370.10" width="3.60" height="15.70" fill="#d2d2d2" stroke="#8c8c8c" stroke-width="1" />
<rect x="197.80" y="365.90" width="3.90" height="19.90" fill="#d2d2d2" stroke="#8c8c8c" stroke-width="1" />
<rect x="202.70" y="365.90" width="3.60" height="19.90" fill="#d2d2d2" stroke="#8c8c8c" stroke-width="1" />
<rect x="207.30" y="368.40" width="3.90" height="17.40" fill="#d2d2d2" stroke="#8c8c8c" stroke-width="1" />
<rect x="212.20" y="353.00" width="3.70" height="32.80" fill="#d2d2d2" stroke="#8c8c8c" stroke-width="1" />
<rect x="216.90" y="364.60" width="3.80" height="21.20" fill="#d2d2d2" stroke="#8c8c8c" stroke-width="1" />
<rect x="221.70" y="354.40" width="3.70" height="31.40" fill="#d2d2d2" stroke="#8c8c8c" stroke-width="1" />
<rect x="226.40" y="354.40" width="3.80" height="31.40" fill="#d2d2d2" stroke="#8c8c8c" stroke-width="1" />
<rect x="231.20" y="354.40" width="3.70" height="31.40" fill="#d2d2d2" stroke="#8c8c8c" stroke-width="1" />
<rect x="235.90" y="357.40" width="3.90" height="28.40" fill="#d2d2d2" stroke="#8c8c8c" stroke-width="1" />
<rect x="240.80" y="359.30" width="4.00" height="26.50" fill="#d2d2d2" stroke="#8c8c8c" stroke-width="1" />
<rect x="245.80" y="368.40" width="3.90" height="17.40" fill="#d2d2d2" stroke="#8c8c8c" stroke-width="1" />
<rect x="250.70" y="375.80" width="3.80" height="10.00" fill="#d2d2d2" stroke="#8c8c8c" stroke-width="1" />
<rect x="255.50" y="381.00" width="3.70" height="4.80" fill="#d2d2d2" stroke="#8c8c8c" stroke-width="1" />
<rect x="260.20" y="383.80" width="4.30" height="2.00" fill="#d2d2d2" stroke="#8c8c8c" stroke-width="1" />
<path d="M89.7,365.9 C92,361 94.5,359.3 97,359.5 C101,359.8 104,366 108,371 C112,376 118,377 126,377.5 C132,378 138,378.4 146,376.5 C156,374 163,371 172,368.5 C180,366.5 188,366 196,365.6 C204,364.6 208,362.6 215,360.3 C221,358.3 226,357.2 230,357.4 C236,357.8 241,361 245,366 C249,371 253,377 258,380.5 C261,382.5 264,383.3 267.1,383.8" fill="none" stroke="#1a1a1a" stroke-width="1.6"/>
<line x1="397.30" y1="251.10" x2="397.30" y2="385.10" stroke="#111" stroke-width="1.6" />
<line x1="390.00" y1="251.10" x2="398.10" y2="251.10" stroke="#111" stroke-width="1.6" />
<line x1="390.00" y1="270.10" x2="398.10" y2="270.10" stroke="#111" stroke-width="1.6" />
<line x1="390.00" y1="289.30" x2="398.10" y2="289.30" stroke="#111" stroke-width="1.6" />
<line x1="390.00" y1="308.60" x2="398.10" y2="308.60" stroke="#111" stroke-width="1.6" />
<line x1="390.00" y1="327.60" x2="398.10" y2="327.60" stroke="#111" stroke-width="1.6" />
<line x1="390.00" y1="346.60" x2="398.10" y2="346.60" stroke="#111" stroke-width="1.6" />
<line x1="390.00" y1="365.70" x2="398.10" y2="365.70" stroke="#111" stroke-width="1.6" />
<line x1="390.00" y1="384.70" x2="398.10" y2="384.70" stroke="#111" stroke-width="1.6" />
<text x="382.80" y="256.40" font-size="16" text-anchor="end" font-weight="normal" font-style="normal" fill="#0c0c0c" >0.35</text>
<text x="382.80" y="390.00" font-size="16" text-anchor="end" font-weight="normal" font-style="normal" fill="#0c0c0c" >0</text>
<text x="336.00" y="318.20" font-size="16" text-anchor="middle" font-weight="normal" font-style="normal" fill="#0c0c0c" transform="rotate(-90 336.00 318.20)" >Density</text>
<line x1="404.50" y1="391.00" x2="583.60" y2="391.00" stroke="#111" stroke-width="1.6" />
<line x1="405.20" y1="390.20" x2="405.20" y2="398.50" stroke="#111" stroke-width="1.6" />
<line x1="430.30" y1="390.20" x2="430.30" y2="398.50" stroke="#111" stroke-width="1.6" />
<line x1="455.50" y1="390.20" x2="455.50" y2="398.50" stroke="#111" stroke-width="1.6" />
<line x1="480.80" y1="390.20" x2="480.80" y2="398.50" stroke="#111" stroke-width="1.6" />
<line x1="505.80" y1="390.20" x2="505.80" y2="398.50" stroke="#111" stroke-width="1.6" />
<line x1="532.10" y1="390.20" x2="532.10" y2="398.50" stroke="#111" stroke-width="1.6" />
<line x1="582.80" y1="390.20" x2="582.80" y2="398.50" stroke="#111" stroke-width="1.6" />
<text x="404.90" y="417.60" font-size="16" text-anchor="middle" font-weight="normal" font-style="normal" fill="#0c0c0c" >1</text>
<text x="455.40" y="417.60" font-size="16" text-anchor="middle" font-weight="normal" font-style="normal" fill="#0c0c0c" >4</text>
<text x="506.40" y="417.60" font-size="16" text-anchor="middle" font-weight="normal" font-style="normal" fill="#0c0c0c" >16</text>
<text x="560.90" y="417.60" font-size="16" text-anchor="middle" font-weight="normal" font-style="normal" fill="#0c0c0c" >64</text>
<text x="493.10" y="443.30" font-size="16" text-anchor="middle" font-weight="normal" font-style="normal" fill="#0c0c0c" >Coverage of UMI 1/</text>
<text x="493.10" y="461.90" font-size="16" text-anchor="middle" font-weight="normal" font-style="normal" fill="#0c0c0c" >coverage of UMI 2</text>
<rect x="403.90" y="251.00" width="5.13" height="133.70" fill="#b4b4b4" stroke="#8a8a8a" stroke-width="0.6" />
<rect x="409.03" y="258.90" width="5.13" height="125.80" fill="#b4b4b4" stroke="#8a8a8a" stroke-width="0.6" />
<rect x="414.16" y="289.30" width="5.13" height="95.40" fill="#b4b4b4" stroke="#8a8a8a" stroke-width="0.6" />
<rect x="419.29" y="281.00" width="5.13" height="103.70" fill="#b4b4b4" stroke="#8a8a8a" stroke-width="0.6" />
<rect x="424.41" y="286.20" width="5.13" height="98.50" fill="#b4b4b4" stroke="#8a8a8a" stroke-width="0.6" />
<rect x="429.54" y="308.40" width="5.13" height="76.30" fill="#b4b4b4" stroke="#8a8a8a" stroke-width="0.6" />
<rect x="434.67" y="322.50" width="5.13" height="62.20" fill="#b4b4b4" stroke="#8a8a8a" stroke-width="0.6" />
<rect x="439.80" y="305.90" width="5.13" height="78.80" fill="#b4b4b4" stroke="#8a8a8a" stroke-width="0.6" />
<rect x="444.93" y="338.80" width="5.13" height="45.90" fill="#b4b4b4" stroke="#8a8a8a" stroke-width="0.6" />
<rect x="450.06" y="319.40" width="5.13" height="65.30" fill="#b4b4b4" stroke="#8a8a8a" stroke-width="0.6" />
<rect x="455.19" y="341.50" width="5.13" height="43.20" fill="#b4b4b4" stroke="#8a8a8a" stroke-width="0.6" />
<rect x="460.31" y="311.30" width="5.13" height="73.40" fill="#b4b4b4" stroke="#8a8a8a" stroke-width="0.6" />
<rect x="465.44" y="322.50" width="5.13" height="62.20" fill="#b4b4b4" stroke="#8a8a8a" stroke-width="0.6" />
<rect x="470.57" y="366.20" width="5.13" height="18.50" fill="#b4b4b4" stroke="#8a8a8a" stroke-width="0.6" />
<rect x="475.70" y="338.70" width="5.13" height="46.00" fill="#b4b4b4" stroke="#8a8a8a" stroke-width="0.6" />
<rect x="480.83" y="341.20" width="5.13" height="43.50" fill="#b4b4b4" stroke="#8a8a8a" stroke-width="0.6" />
<rect x="485.96" y="350.20" width="5.13" height="34.50" fill="#b4b4b4" stroke="#8a8a8a" stroke-width="0.6" />
<rect x="491.09" y="352.70" width="5.13" height="32.00" fill="#b4b4b4" stroke="#8a8a8a" stroke-width="0.6" />
<rect x="496.21" y="355.20" width="5.13" height="29.50" fill="#b4b4b4" stroke="#8a8a8a" stroke-width="0.6" />
<rect x="501.34" y="344.20" width="5.13" height="40.50" fill="#b4b4b4" stroke="#8a8a8a" stroke-width="0.6" />
<rect x="506.47" y="361.00" width="5.13" height="23.70" fill="#b4b4b4" stroke="#8a8a8a" stroke-width="0.6" />
<rect x="511.60" y="352.50" width="5.13" height="32.20" fill="#b4b4b4" stroke="#8a8a8a" stroke-width="0.6" />
<rect x="516.73" y="355.20" width="5.13" height="29.50" fill="#b4b4b4" stroke="#8a8a8a" stroke-width="0.6" />
<rect x="521.86" y="338.70" width="5.13" height="46.00" fill="#b4b4b4" stroke="#8a8a8a" stroke-width="0.6" />
<rect x="526.99" y="330.60" width="5.13" height="54.10" fill="#b4b4b4" stroke="#8a8a8a" stroke-width="0.6" />
<rect x="532.11" y="337.30" width="5.13" height="47.40" fill="#b4b4b4" stroke="#8a8a8a" stroke-width="0.6" />
<rect x="537.24" y="322.50" width="5.13" height="62.20" fill="#b4b4b4" stroke="#8a8a8a" stroke-width="0.6" />
<rect x="542.37" y="344.20" width="5.13" height="40.50" fill="#b4b4b4" stroke="#8a8a8a" stroke-width="0.6" />
<rect x="547.50" y="344.20" width="5.13" height="40.50" fill="#b4b4b4" stroke="#8a8a8a" stroke-width="0.6" />
<rect x="552.63" y="317.10" width="5.13" height="67.60" fill="#b4b4b4" stroke="#8a8a8a" stroke-width="0.6" />
<rect x="557.76" y="336.00" width="5.13" height="48.70" fill="#b4b4b4" stroke="#8a8a8a" stroke-width="0.6" />
<rect x="562.89" y="327.90" width="5.13" height="56.80" fill="#b4b4b4" stroke="#8a8a8a" stroke-width="0.6" />
<rect x="568.01" y="361.00" width="5.13" height="23.70" fill="#b4b4b4" stroke="#8a8a8a" stroke-width="0.6" />
<rect x="573.14" y="383.00" width="5.13" height="1.70" fill="#b4b4b4" stroke="#8a8a8a" stroke-width="0.6" />
<rect x="578.27" y="383.00" width="5.13" height="1.70" fill="#b4b4b4" stroke="#8a8a8a" stroke-width="0.6" />
<path d="M397.3,346.6 C402,330 408,310 414,301 C418,296 422,295.5 426,298 C432,302 438,311 446,320.9 C452,327 460,332 467,336.3 C476,341 487,347 500,350.5 C510,352 515,346 520,344 C528,340 535,336 542,334.8 C548,334.5 553,336 556,338 C561,342 566,351 571,360 C576,369 581,376 585,379 C587,380.5 589,381.3 590.2,381.6" fill="none" stroke="#1a1a1a" stroke-width="1.6"/>
<line x1="724.00" y1="262.20" x2="724.00" y2="391.80" stroke="#111" stroke-width="1.7" />
<line x1="723.20" y1="391.00" x2="863.80" y2="391.00" stroke="#111" stroke-width="1.7" />
<line x1="716.40" y1="278.60" x2="724.00" y2="278.60" stroke="#111" stroke-width="1.6" />
<line x1="716.40" y1="314.20" x2="724.00" y2="314.20" stroke="#111" stroke-width="1.6" />
<line x1="716.40" y1="350.00" x2="724.00" y2="350.00" stroke="#111" stroke-width="1.6" />
<line x1="716.40" y1="385.80" x2="724.00" y2="385.80" stroke="#111" stroke-width="1.6" />
<line x1="752.90" y1="391.00" x2="752.90" y2="398.80" stroke="#111" stroke-width="1.6" />
<line x1="776.70" y1="391.00" x2="776.70" y2="398.80" stroke="#111" stroke-width="1.6" />
<line x1="800.30" y1="391.00" x2="800.30" y2="398.80" stroke="#111" stroke-width="1.6" />
<line x1="824.00" y1="391.00" x2="824.00" y2="398.80" stroke="#111" stroke-width="1.6" />
<line x1="847.50" y1="391.00" x2="847.50" y2="398.80" stroke="#111" stroke-width="1.6" />
<text x="710.80" y="284.00" font-size="16" text-anchor="end" font-weight="normal" font-style="normal" fill="#0c0c0c" >15</text>
<text x="710.80" y="391.00" font-size="16" text-anchor="end" font-weight="normal" font-style="normal" fill="#0c0c0c" >0</text>
<text x="724.50" y="417.20" font-size="16" text-anchor="middle" font-weight="normal" font-style="normal" fill="#0c0c0c" >0</text>
<text x="777.80" y="417.20" font-size="16" text-anchor="middle" font-weight="normal" font-style="normal" fill="#0c0c0c" >500</text>
<text x="848.40" y="417.20" font-size="16" text-anchor="middle" font-weight="normal" font-style="normal" fill="#0c0c0c" >1,000</text>
<text x="793.60" y="443.00" font-size="16" text-anchor="middle" font-weight="normal" font-style="normal" fill="#0c0c0c" >Coverage</text>
<text x="793.60" y="461.40" font-size="16" text-anchor="middle" font-weight="normal" font-style="normal" fill="#0c0c0c" >(thousands of reads)</text>
<text x="660.50" y="327.00" font-size="16" text-anchor="middle" font-weight="normal" font-style="normal" fill="#0c0c0c" transform="rotate(-90 660.50 327.00)" >Inferred UMIs</text>
<text x="679.70" y="326.00" font-size="16" text-anchor="middle" font-weight="normal" font-style="normal" fill="#0c0c0c" transform="rotate(-90 679.70 326.00)" >(thousands)</text>
<text x="851.60" y="266.50" font-size="16" text-anchor="start" font-weight="normal" font-style="normal" fill="#0c0c0c" >Not filtered</text>
<text x="851.60" y="309.60" font-size="16" text-anchor="start" font-weight="normal" font-style="normal" fill="#0c0c0c" >Filtered</text>
<polyline points="728.50,383.20 728.80,380.20 729.20,374.20 729.90,362.70 731.20,345.90 734.20,327.00 739.60,313.00 753.30,303.30 782.80,296.40 846.80,290.10" fill="none" stroke="#5a3a32" stroke-width="1.4" />
<polyline points="739.60,308.70 753.30,295.00 782.80,284.20 846.80,273.90" fill="none" stroke="#6c7896" stroke-width="1.6" stroke-dasharray="5,3.5"/>
<polyline points="728.50,383.20 728.80,380.20 729.20,374.20 729.90,362.70 731.20,345.90 734.20,327.00 739.60,308.70" fill="none" stroke="#6c7896" stroke-width="1.6" />
<circle cx="728.5" cy="383.2" r="1.3" fill="#5a3a32"/>
<circle cx="728.8" cy="380.2" r="1.3" fill="#5a3a32"/>
<circle cx="729.2" cy="374.2" r="1.3" fill="#5a3a32"/>
<circle cx="729.9" cy="362.7" r="1.3" fill="#5a3a32"/>
<circle cx="731.2" cy="345.9" r="1.3" fill="#5a3a32"/>
<circle cx="734.2" cy="327" r="1.3" fill="#5a3a32"/>
<circle cx="739.6" cy="313" r="1.3" fill="#5a3a32"/>
<circle cx="753.3" cy="303.3" r="1.3" fill="#5a3a32"/>
<circle cx="782.8" cy="296.4" r="1.3" fill="#5a3a32"/>
<circle cx="846.8" cy="290.1" r="1.3" fill="#5a3a32"/>
<circle cx="728.5" cy="383.2" r="1.3" fill="#6c7896"/>
<circle cx="728.8" cy="380.2" r="1.3" fill="#6c7896"/>
<circle cx="729.2" cy="374.2" r="1.3" fill="#6c7896"/>
<circle cx="729.9" cy="362.7" r="1.3" fill="#6c7896"/>
<circle cx="731.2" cy="345.9" r="1.3" fill="#6c7896"/>
<circle cx="734.2" cy="327" r="1.3" fill="#6c7896"/>
<circle cx="739.6" cy="308.7" r="1.3" fill="#6c7896"/>
<circle cx="753.3" cy="295" r="1.3" fill="#6c7896"/>
<circle cx="782.8" cy="284.2" r="1.3" fill="#6c7896"/>
<circle cx="846.8" cy="273.9" r="1.3" fill="#6c7896"/>
<line x1="127.80" y1="539.50" x2="127.80" y2="681.80" stroke="#111" stroke-width="1.6" />
<line x1="127.00" y1="681.00" x2="273.50" y2="681.00" stroke="#111" stroke-width="1.6" />
<line x1="119.60" y1="549.00" x2="127.80" y2="549.00" stroke="#111" stroke-width="1.6" />
<line x1="119.60" y1="570.10" x2="127.80" y2="570.10" stroke="#111" stroke-width="1.6" />
<line x1="119.60" y1="591.40" x2="127.80" y2="591.40" stroke="#111" stroke-width="1.6" />
<line x1="119.60" y1="612.60" x2="127.80" y2="612.60" stroke="#111" stroke-width="1.6" />
<line x1="119.60" y1="633.80" x2="127.80" y2="633.80" stroke="#111" stroke-width="1.6" />
<line x1="119.60" y1="654.80" x2="127.80" y2="654.80" stroke="#111" stroke-width="1.6" />
<line x1="119.60" y1="676.00" x2="127.80" y2="676.00" stroke="#111" stroke-width="1.6" />
<line x1="159.00" y1="681.00" x2="159.00" y2="688.80" stroke="#111" stroke-width="1.6" />
<line x1="185.20" y1="681.00" x2="185.20" y2="688.80" stroke="#111" stroke-width="1.6" />
<line x1="211.20" y1="681.00" x2="211.20" y2="688.80" stroke="#111" stroke-width="1.6" />
<line x1="236.80" y1="681.00" x2="236.80" y2="688.80" stroke="#111" stroke-width="1.6" />
<line x1="262.70" y1="681.00" x2="262.70" y2="688.80" stroke="#111" stroke-width="1.6" />
<text x="113.80" y="554.80" font-size="16" text-anchor="end" font-weight="normal" font-style="normal" fill="#0c0c0c" >0.06</text>
<text x="113.80" y="617.60" font-size="16" text-anchor="end" font-weight="normal" font-style="normal" fill="#0c0c0c" >0.03</text>
<text x="113.80" y="681.00" font-size="16" text-anchor="end" font-weight="normal" font-style="normal" fill="#0c0c0c" >0</text>
<text x="127.90" y="707.30" font-size="16" text-anchor="middle" font-weight="normal" font-style="normal" fill="#0c0c0c" >0</text>
<text x="192.70" y="707.30" font-size="16" text-anchor="middle" font-weight="normal" font-style="normal" fill="#0c0c0c" >500</text>
<text x="262.20" y="707.30" font-size="16" text-anchor="middle" font-weight="normal" font-style="normal" fill="#0c0c0c" >1,000</text>
<text x="200.40" y="729.70" font-size="16" text-anchor="middle" font-weight="normal" font-style="normal" fill="#0c0c0c" >Coverage</text>
<text x="200.40" y="748.40" font-size="16" text-anchor="middle" font-weight="normal" font-style="normal" fill="#0c0c0c" >(thousands of reads)</text>
<text x="32.50" y="610.00" font-size="16" text-anchor="middle" font-weight="normal" font-style="normal" fill="#0c0c0c" transform="rotate(-90 32.50 610.00)" >Fraction of</text>
<text x="52.50" y="610.00" font-size="16" text-anchor="middle" font-weight="normal" font-style="normal" fill="#0c0c0c" transform="rotate(-90 52.50 610.00)" >interchromosomal contacts</text>
<text x="70.00" y="610.00" font-size="16" text-anchor="middle" font-weight="normal" font-style="normal" fill="#0c0c0c" transform="rotate(-90 70.00 610.00)" >with more than 1 UMI</text>
<text x="227.30" y="587.00" font-size="16" text-anchor="start" font-weight="normal" font-style="normal" fill="#0c0c0c" >Not filtered</text>
<text x="227.30" y="644.50" font-size="16" text-anchor="start" font-weight="normal" font-style="normal" fill="#0c0c0c" >Filtered</text>
<polyline points="133.20,675.70 132.80,653.50 133.70,646.00 135.30,652.50 138.10,641.90 145.50,644.50 160.10,645.10 192.40,647.80 262.50,656.30" fill="none" stroke="#5a3a32" stroke-width="1.3" />
<polyline points="133.20,675.70 132.80,653.50 133.70,645.10 134.90,651.40 136.00,646.20 138.50,627.10 145.50,628.60 160.10,623.30 192.40,589.10 262.50,550.50" fill="none" stroke="#6c7896" stroke-width="1.6" />
<circle cx="133.2" cy="675.7" r="1.3" fill="#5a3a32"/>
<circle cx="132.8" cy="653.5" r="1.3" fill="#5a3a32"/>
<circle cx="133.7" cy="646" r="1.3" fill="#5a3a32"/>
<circle cx="135.3" cy="652.5" r="1.3" fill="#5a3a32"/>
<circle cx="138.1" cy="641.9" r="1.3" fill="#5a3a32"/>
<circle cx="145.5" cy="644.5" r="1.3" fill="#5a3a32"/>
<circle cx="160.1" cy="645.1" r="1.3" fill="#5a3a32"/>
<circle cx="192.4" cy="647.8" r="1.3" fill="#5a3a32"/>
<circle cx="262.5" cy="656.3" r="1.3" fill="#5a3a32"/>
<circle cx="133.2" cy="675.7" r="1.3" fill="#6c7896"/>
<circle cx="132.8" cy="653.5" r="1.3" fill="#6c7896"/>
<circle cx="133.7" cy="645.1" r="1.3" fill="#6c7896"/>
<circle cx="134.9" cy="651.4" r="1.3" fill="#6c7896"/>
<circle cx="136" cy="646.2" r="1.3" fill="#6c7896"/>
<circle cx="138.5" cy="627.1" r="1.3" fill="#6c7896"/>
<circle cx="145.5" cy="628.6" r="1.3" fill="#6c7896"/>
<circle cx="160.1" cy="623.3" r="1.3" fill="#6c7896"/>
<circle cx="192.4" cy="589.1" r="1.3" fill="#6c7896"/>
<circle cx="262.5" cy="550.5" r="1.3" fill="#6c7896"/>
<line x1="426.60" y1="539.70" x2="426.60" y2="681.60" stroke="#111" stroke-width="1.6" />
<line x1="419.50" y1="539.70" x2="426.60" y2="539.70" stroke="#111" stroke-width="1.6" />
<text x="413.60" y="545.30" font-size="16" text-anchor="end" font-weight="normal" font-style="normal" fill="#0c0c0c" >1.0</text>
<line x1="419.50" y1="568.10" x2="426.60" y2="568.10" stroke="#111" stroke-width="1.6" />
<text x="413.60" y="573.70" font-size="16" text-anchor="end" font-weight="normal" font-style="normal" fill="#0c0c0c" >0.8</text>
<line x1="419.50" y1="596.50" x2="426.60" y2="596.50" stroke="#111" stroke-width="1.6" />
<text x="413.60" y="602.10" font-size="16" text-anchor="end" font-weight="normal" font-style="normal" fill="#0c0c0c" >0.6</text>
<line x1="419.50" y1="624.80" x2="426.60" y2="624.80" stroke="#111" stroke-width="1.6" />
<text x="413.60" y="630.40" font-size="16" text-anchor="end" font-weight="normal" font-style="normal" fill="#0c0c0c" >0.4</text>
<line x1="419.50" y1="652.70" x2="426.60" y2="652.70" stroke="#111" stroke-width="1.6" />
<text x="413.60" y="658.30" font-size="16" text-anchor="end" font-weight="normal" font-style="normal" fill="#0c0c0c" >0.2</text>
<line x1="419.50" y1="680.80" x2="426.60" y2="680.80" stroke="#111" stroke-width="1.6" />
<text x="413.60" y="686.40" font-size="16" text-anchor="end" font-weight="normal" font-style="normal" fill="#0c0c0c" >0</text>
<rect x="440.80" y="622.00" width="16.50" height="58.80" fill="#c2c2c2" stroke="#111" stroke-width="1.5" />
<text x="448.90" y="700.50" font-size="16" text-anchor="middle" font-weight="normal" font-style="normal" fill="#0c0c0c" >20</text>
<rect x="476.80" y="594.80" width="16.40" height="86.00" fill="#c2c2c2" stroke="#111" stroke-width="1.5" />
<text x="484.85" y="700.50" font-size="16" text-anchor="middle" font-weight="normal" font-style="normal" fill="#0c0c0c" >40</text>
<rect x="512.90" y="573.50" width="16.50" height="107.30" fill="#c2c2c2" stroke="#111" stroke-width="1.5" />
<text x="521.00" y="700.50" font-size="16" text-anchor="middle" font-weight="normal" font-style="normal" fill="#0c0c0c" >100</text>
<rect x="548.70" y="559.40" width="16.50" height="121.40" fill="#c2c2c2" stroke="#111" stroke-width="1.5" />
<text x="556.80" y="700.50" font-size="16" text-anchor="middle" font-weight="normal" font-style="normal" fill="#0c0c0c" >200</text>
<rect x="584.80" y="549.30" width="16.50" height="131.50" fill="#c2c2c2" stroke="#111" stroke-width="1.5" />
<text x="592.90" y="700.50" font-size="16" text-anchor="middle" font-weight="normal" font-style="normal" fill="#0c0c0c" >500</text>
<rect x="620.20" y="539.20" width="16.50" height="141.60" fill="#c2c2c2" stroke="#111" stroke-width="1.5" />
<text x="628.30" y="700.50" font-size="16" text-anchor="middle" font-weight="normal" font-style="normal" fill="#0c0c0c" >1,000</text>
<text x="538.40" y="728.20" font-size="16" text-anchor="middle" font-weight="normal" font-style="normal" fill="#0c0c0c" >Coverage</text>
<text x="538.40" y="746.80" font-size="16" text-anchor="middle" font-weight="normal" font-style="normal" fill="#0c0c0c" >(thousands of reads)</text>
<text x="357.30" y="610.40" font-size="16" text-anchor="middle" font-weight="normal" font-style="normal" fill="#0c0c0c" transform="rotate(-90 357.30 610.40)" >Fraction of</text>
<text x="376.00" y="610.60" font-size="16" text-anchor="middle" font-weight="normal" font-style="normal" fill="#0c0c0c" transform="rotate(-90 376.00 610.60)" >library UMIs</text>
<line x1="762.60" y1="538.50" x2="762.60" y2="681.60" stroke="#111" stroke-width="2" />
<line x1="762.00" y1="680.80" x2="946.00" y2="680.80" stroke="#111" stroke-width="2" />
<line x1="754.50" y1="563.30" x2="762.60" y2="563.30" stroke="#111" stroke-width="1.6" />
<text x="748.30" y="568.70" font-size="16" text-anchor="end" font-weight="normal" font-style="normal" fill="#0c0c0c" >15</text>
<line x1="754.50" y1="607.50" x2="762.60" y2="607.50" stroke="#111" stroke-width="1.6" />
<text x="748.30" y="612.90" font-size="16" text-anchor="end" font-weight="normal" font-style="normal" fill="#0c0c0c" >10</text>
<line x1="754.50" y1="651.70" x2="762.60" y2="651.70" stroke="#111" stroke-width="1.6" />
<text x="748.30" y="657.10" font-size="16" text-anchor="end" font-weight="normal" font-style="normal" fill="#0c0c0c" >5</text>
<line x1="786.30" y1="680.80" x2="786.30" y2="688.70" stroke="#111" stroke-width="1.6" />
<line x1="820.00" y1="680.80" x2="820.00" y2="688.70" stroke="#111" stroke-width="1.6" />
<line x1="853.70" y1="680.80" x2="853.70" y2="688.70" stroke="#111" stroke-width="1.6" />
<line x1="887.50" y1="680.80" x2="887.50" y2="688.70" stroke="#111" stroke-width="1.6" />
<line x1="921.40" y1="680.80" x2="921.40" y2="688.70" stroke="#111" stroke-width="1.6" />
<text x="697.00" y="609.70" font-size="16" text-anchor="middle" font-weight="normal" font-style="normal" fill="#0c0c0c" transform="rotate(-90 697.00 609.70)" >Recovery</text>
<text x="717.50" y="609.60" font-size="16" text-anchor="middle" font-weight="normal" font-style="normal" fill="#0c0c0c" transform="rotate(-90 717.50 609.60)" >(1,000 UMIs/μg)</text>
<line x1="786.05" y1="578.10" x2="786.05" y2="584.30" stroke="#d2d2d2" stroke-width="0.9" />
<line x1="786.05" y1="609.80" x2="786.05" y2="630.10" stroke="#d2d2d2" stroke-width="0.9" />
<line x1="779.15" y1="578.10" x2="792.95" y2="578.10" stroke="#aaaaaa" stroke-width="1" />
<line x1="779.15" y1="630.10" x2="792.95" y2="630.10" stroke="#aaaaaa" stroke-width="1" />
<rect x="772.40" y="584.30" width="27.30" height="25.50" fill="#6f7592" stroke="#3d4258" stroke-width="0.9" />
<line x1="772.40" y1="590.10" x2="799.70" y2="590.10" stroke="#23263a" stroke-width="1.8" />
<line x1="820.15" y1="611.20" x2="820.15" y2="611.20" stroke="#d2d2d2" stroke-width="0.9" />
<line x1="820.15" y1="622.40" x2="820.15" y2="622.90" stroke="#d2d2d2" stroke-width="0.9" />
<line x1="813.25" y1="611.20" x2="827.05" y2="611.20" stroke="#aaaaaa" stroke-width="1" />
<line x1="813.25" y1="622.90" x2="827.05" y2="622.90" stroke="#aaaaaa" stroke-width="1" />
<rect x="806.40" y="611.20" width="27.50" height="11.20" fill="#f7f7f7" stroke="#7a7a7a" stroke-width="0.9" />
<line x1="806.40" y1="614.30" x2="833.90" y2="614.30" stroke="#555" stroke-width="1.8" />
<line x1="854.10" y1="623.80" x2="854.10" y2="624.30" stroke="#d2d2d2" stroke-width="0.9" />
<line x1="854.10" y1="648.50" x2="854.10" y2="649.50" stroke="#d2d2d2" stroke-width="0.9" />
<line x1="847.20" y1="623.80" x2="861.00" y2="623.80" stroke="#aaaaaa" stroke-width="1" />
<line x1="847.20" y1="649.50" x2="861.00" y2="649.50" stroke="#aaaaaa" stroke-width="1" />
<rect x="840.50" y="624.30" width="27.20" height="24.20" fill="#dccbb4" stroke="#9a8a78" stroke-width="0.9" />
<line x1="840.50" y1="629.40" x2="867.70" y2="629.40" stroke="#6a5040" stroke-width="1.8" />
<line x1="887.95" y1="613.90" x2="887.95" y2="629.00" stroke="#d2d2d2" stroke-width="0.9" />
<line x1="887.95" y1="654.50" x2="887.95" y2="676.00" stroke="#d2d2d2" stroke-width="0.9" />
<line x1="881.05" y1="613.90" x2="894.85" y2="613.90" stroke="#aaaaaa" stroke-width="1" />
<line x1="881.05" y1="676.00" x2="894.85" y2="676.00" stroke="#aaaaaa" stroke-width="1" />
<rect x="874.30" y="629.00" width="27.30" height="25.50" fill="#c98f6a" stroke="#8a5a40" stroke-width="0.9" />
<line x1="874.30" y1="642.90" x2="901.60" y2="642.90" stroke="#5a3a28" stroke-width="1.8" />
<line x1="921.95" y1="544.10" x2="921.95" y2="580.10" stroke="#d2d2d2" stroke-width="0.9" />
<line x1="921.95" y1="606.70" x2="921.95" y2="641.90" stroke="#d2d2d2" stroke-width="0.9" />
<line x1="915.05" y1="544.10" x2="928.85" y2="544.10" stroke="#aaaaaa" stroke-width="1" />
<line x1="915.05" y1="641.90" x2="928.85" y2="641.90" stroke="#aaaaaa" stroke-width="1" />
<rect x="908.50" y="580.10" width="26.90" height="26.60" fill="#5b4036" stroke="#3a2820" stroke-width="0.9" />
<line x1="908.50" y1="594.80" x2="935.40" y2="594.80" stroke="#2e1e18" stroke-width="1.8" />
<circle cx="820" cy="567.9" r="1.1" fill="#888"/>
<text x="792.20" y="696.3" font-size="16.3" text-anchor="end" fill="#0c0c0c" transform="rotate(-90 792.20 696.3)"><tspan font-style="italic">ANK1</tspan></text>
<text x="825.90" y="696.3" font-size="16.3" text-anchor="end" fill="#0c0c0c" transform="rotate(-90 825.90 696.3)"><tspan font-style="italic">GATA1</tspan>–165 kb</text>
<text x="859.60" y="696.3" font-size="16.3" text-anchor="end" fill="#0c0c0c" transform="rotate(-90 859.60 696.3)"><tspan font-style="italic">GATA1</tspan>–50 kb</text>
<text x="893.40" y="696.3" font-size="16.3" text-anchor="end" fill="#0c0c0c" transform="rotate(-90 893.40 696.3)"><tspan font-style="italic">GATA1</tspan>–3.5 kb</text>
<text x="927.30" y="696.3" font-size="16.3" text-anchor="end" fill="#0c0c0c" transform="rotate(-90 927.30 696.3)"><tspan font-style="italic">GATA1 G1p1</tspan></text>
</svg>
</body></html>
